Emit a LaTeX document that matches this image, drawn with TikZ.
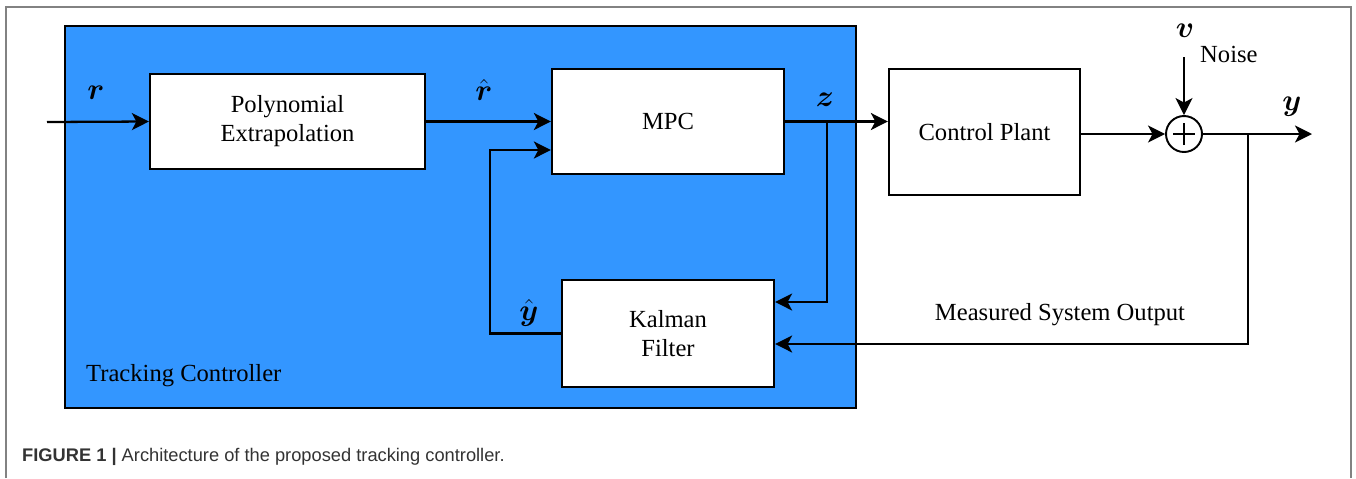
\documentclass[tikz,border=0pt]{standalone}
\usepackage{fontspec}
\usepackage{amsmath}
\setmainfont{Liberation Serif}
\newfontfamily\capfont{Liberation Sans}
\usetikzlibrary{arrows.meta, positioning, calc}
\definecolor{ctrlblue}{RGB}{51,150,255}
\definecolor{framegray}{RGB}{130,130,130}
\definecolor{captext}{RGB}{51,51,51}

\begin{document}
\begin{tikzpicture}[x=0.02cm,y=-0.02cm,
  every node/.style={font=\rmfamily\fontsize{14}{16.5}\selectfont},
  wire/.style={line width=1.3pt},
  block/.style={draw, line width=1.3pt, fill=white, align=center, inner sep=0pt},
  sig/.style={font=\fontsize{16}{18}\selectfont},
  >={Stealth[length=0.34cm,width=0.34cm,inset=0.09cm]}]
  \useasboundingbox (0,0) rectangle (1356,478);
  % ---- figure frame ------------------------------------------------------
  \draw[framegray, line width=0.8pt] (6,478) -- (6,7) -- (1351,7) -- (1351,478);
  % ---- tracking controller -------------------------------------------------
  \node[draw, line width=1.4pt, fill=ctrlblue, minimum width=15.82cm,
    minimum height=7.64cm, inner sep=0pt] (tc) at (460.5,217) {};
  \node[anchor=west] (tclabel) at (80,376) {Tracking Controller};
  \node[block, minimum width=5.5cm, minimum height=1.9cm] (poly) at (287.5,121.5)
    {Polynomial\\Extrapolation};
  \node[block, minimum width=4.64cm, minimum height=2.1cm] (mpc) at (668,121.5) {MPC};
  \node[block, minimum width=4.24cm, minimum height=2.14cm] (kalman) at (668,333.5)
    {Kalman\\Filter};
  % ---- plant and noise -----------------------------------------------------
  \node[block, minimum width=3.82cm, minimum height=2.52cm] (plant) at (984.5,132)
    {Control Plant};
  \node[draw, circle, line width=1.1pt, minimum size=0.72cm, inner sep=0pt] (sum)
    at (1184,134) {};
  \draw[wire] ([xshift=-0.22cm]sum.center) -- ([xshift=0.22cm]sum.center);
  \draw[wire] ([yshift=-0.22cm]sum.center) -- ([yshift=0.22cm]sum.center);
  % ---- signals -------------------------------------------------------------
  \coordinate (rin) at (47,122);
  \coordinate (zsplit) at (827,122);
  \coordinate (fb) at (490,150);
  \coordinate (noisein) at (1184,57);
  \coordinate (yout) at (1312,134);
  \coordinate (ysplit) at (1248,134);
  \draw[wire,->] (rin) -- (poly.west);
  \draw[wire,->] (poly.east) -- (poly.east -| mpc.west);
  \draw[wire,->] (mpc.east) -- (mpc.east -| plant.west);
  \draw[wire,->] (zsplit) |- ([yshift=0.63cm]kalman.east);
  \draw[wire,->] (kalman.west) -| (fb) -- (fb -| mpc.west);
  \draw[wire,->] (plant.east |- sum.west) -- (sum.west);
  \draw[wire,->] (noisein) -- (sum.north);
  \draw[wire,->] (sum.east) -- (yout);
  \draw[wire,->] (ysplit) |- ([yshift=-0.21cm]kalman.east);
  % ---- labels --------------------------------------------------------------
  \node[sig] (rlabel) at (96,93) {$\boldsymbol{r}$};
  \node[sig] (rhat) at (484,90) {$\hat{\boldsymbol{r}}$};
  \node[sig] (zlabel) at (825,100) {$\boldsymbol{z}$};
  \node[sig] (yhat) at (529,313) {$\hat{\boldsymbol{y}}$};
  \node[sig] (ylabel) at (1292,107) {$\boldsymbol{y}$};
  \node[sig] (vlabel) at (1185,31) {$\boldsymbol{v}$};
  \node[anchor=west] (noise) at (1194,54) {Noise};
  \node (meas) at (1060,315) {Measured System Output};
  % ---- caption -------------------------------------------------------------
  \node[anchor=west, font=\capfont\fontsize{10.4}{12}\selectfont, text=captext] (cap)
    at (16,457) {\textbf{FIGURE 1 |} Architecture of the proposed tracking controller.};
\end{tikzpicture}
\end{document}
